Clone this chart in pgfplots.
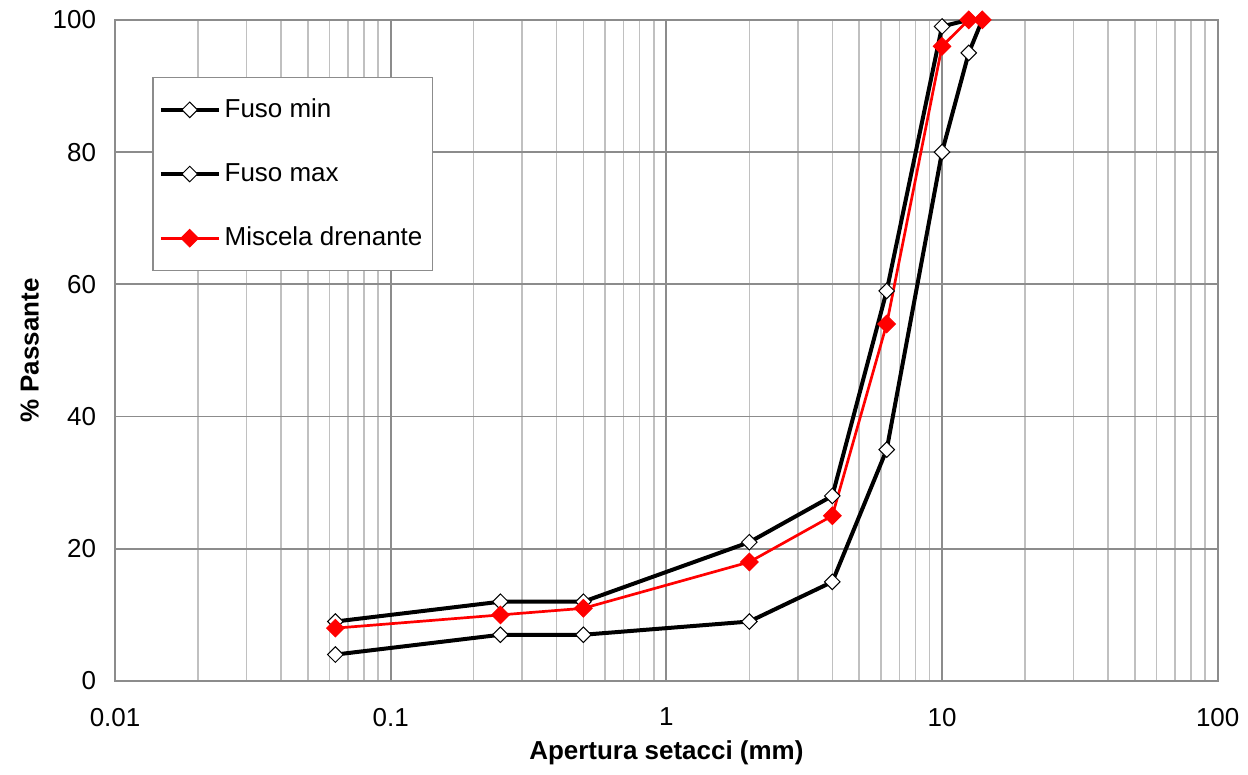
\documentclass[border=0pt]{standalone}
\usepackage{fontspec}
\setmainfont{Liberation Sans}
\usepackage{pgfplots}
\pgfplotsset{compat=1.18}
\definecolor{gmin}{RGB}{192,192,192}
\definecolor{gmaj}{RGB}{140,140,140}
\begin{document}
\fontsize{13}{15.5}\selectfont
\begin{tikzpicture}
\begin{axis}[
  scale only axis,
  width=552pt, height=331pt,
  xmode=log, log basis x=10,
  xmin=0.01, xmax=100, ymin=0, ymax=100,
  ytick={0,20,40,60,80,100},
  xtick={0.01,0.1,1,10,100},
  xticklabels={0.01,0.1,1,10,100},
  minor xtick={0.02,0.03,0.04,0.05,0.06,0.07,0.08,0.09,
               0.2,0.3,0.4,0.5,0.6,0.7,0.8,0.9,
               2,3,4,5,6,7,8,9,
               20,30,40,50,60,70,80,90},
  /pgf/number format/assume math mode=true,
  tick style={draw=none},
  grid=both,
  major grid style={draw=gmaj, line width=0.9pt},
  minor grid style={draw=gmin, line width=0.8pt},
  axis line style={draw=gmaj, line width=0.9pt},
  xticklabel style={yshift=-9pt},
  yticklabel style={xshift=-5pt},
  xlabel={\bfseries Apertura setacci (mm)},
  ylabel={\bfseries \% Passante},
  xlabel style={yshift=1.5pt},
  ylabel style={yshift=-2pt},
  legend cell align=left,
  legend style={draw=gmaj, line width=0.8pt, at={(0.0335,0.914)}, anchor=north west,
    inner xsep=3pt, inner ysep=8.5pt, row sep=17pt, font=\fontsize{13}{15.5}\selectfont},
  legend image code/.code={
    \draw[#1, mark=none] (0pt,0pt) -- (29pt,0pt);
    \draw[#1, only marks] plot coordinates {(14.5pt,0pt)};
  },
]
\addplot[black, line width=2pt, mark=square*, mark size=2.75pt,
  mark options={fill=white, draw=black, line width=0.5pt, rotate=45}]
  coordinates {(0.063,4) (0.25,7) (0.5,7) (2,9) (4,15) (6.3,35) (10,80) (12.5,95) (14,100)};
\addlegendentry{Fuso min}
\addplot[black, line width=2pt, mark=square*, mark size=2.75pt,
  mark options={fill=white, draw=black, line width=0.5pt, rotate=45}]
  coordinates {(0.063,9) (0.25,12) (0.5,12) (2,21) (4,28) (6.3,59) (10,99) (12.5,100) (14,100)};
\addlegendentry{Fuso max}
\addplot[red, line width=1.35pt, mark=square*, mark size=3.1pt,
  mark options={fill=red, draw=red, line width=0.5pt, rotate=45}]
  coordinates {(0.063,8) (0.25,10) (0.5,11) (2,18) (4,25) (6.3,54) (10,96) (12.5,100) (14,100)};
\addlegendentry{Miscela drenante}
\end{axis}
\path ([xshift=-6pt,yshift=1pt]current bounding box.north west);
\end{tikzpicture}
\end{document}
